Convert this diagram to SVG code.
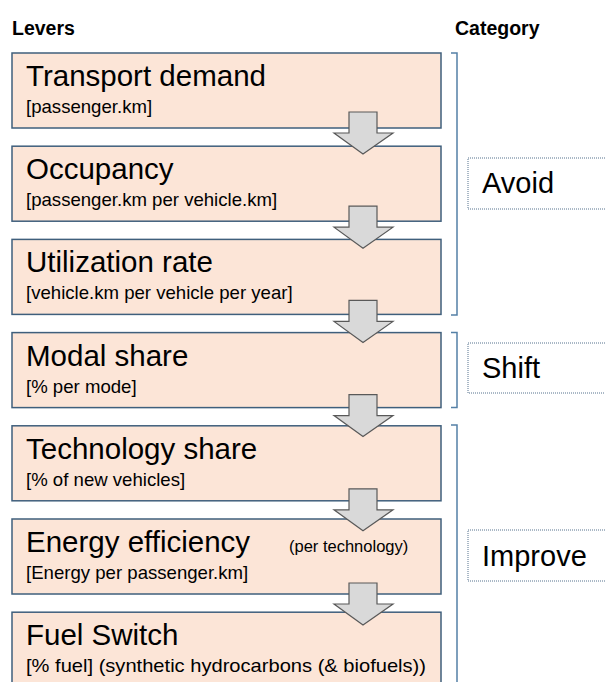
<svg xmlns="http://www.w3.org/2000/svg" width="605" height="682" viewBox="0 0 605 682">
<style>
  .box { fill: #fce5d7; stroke: #3f5f7c; stroke-width: 1.5; }
  .title { font-family: "Liberation Sans", Arial, sans-serif; font-size: 29.5px; fill: #000; }
  .sub { font-family: "Liberation Sans", Arial, sans-serif; font-size: 18.6px; fill: #000; }
  .small { font-family: "Liberation Sans", Arial, sans-serif; font-size: 16.5px; fill: #000; }
  .hdr { font-family: "Liberation Sans", Arial, sans-serif; font-size: 19.5px; font-weight: bold; fill: #000; }
  .cat { fill: #fff; stroke: #56728e; stroke-width: 1; stroke-dasharray: 1 1; }
  .cattext { font-family: "Liberation Sans", Arial, sans-serif; font-size: 29px; fill: #000; }
  .brk { fill: none; stroke: #5480a6; stroke-width: 1.5; }
  .arrow { fill: #d9d9d9; stroke: #595959; stroke-width: 1.2; stroke-linejoin: miter; }
</style>
<rect width="605" height="682" fill="#fff"/>
<g id="headers">
  <text class="hdr" x="12" y="35">Levers</text>
  <text class="hdr" x="455" y="35">Category</text>
</g>
<g id="node-transport-demand">
  <rect class="box" x="12" y="53" width="429" height="75"/>
  <text class="title" x="26" y="86">Transport demand</text>
  <text class="sub" x="26" y="113">[passenger.km]</text>
</g>
<g id="node-occupancy">
  <rect class="box" x="12" y="146.2" width="429" height="75"/>
  <text class="title" x="26" y="179.2">Occupancy</text>
  <text class="sub" x="26" y="206.2">[passenger.km per vehicle.km]</text>
</g>
<g id="node-utilization-rate">
  <rect class="box" x="12" y="239.4" width="429" height="75"/>
  <text class="title" x="26" y="272.4">Utilization rate</text>
  <text class="sub" x="26" y="299.4">[vehicle.km per vehicle per year]</text>
</g>
<g id="node-modal-share">
  <rect class="box" x="12" y="332.6" width="429" height="75"/>
  <text class="title" x="26" y="365.6">Modal share</text>
  <text class="sub" x="26" y="392.6">[% per mode]</text>
</g>
<g id="node-technology-share">
  <rect class="box" x="12" y="425.8" width="429" height="75"/>
  <text class="title" x="26" y="458.8">Technology share</text>
  <text class="sub" x="26" y="485.8">[% of new vehicles]</text>
</g>
<g id="node-energy-efficiency">
  <rect class="box" x="12" y="519" width="429" height="75"/>
  <text class="title" x="26" y="552">Energy efficiency</text>
  <text class="small" x="289" y="552">(per technology)</text>
  <text class="sub" x="26" y="579">[Energy per passenger.km]</text>
</g>
<g id="node-fuel-switch">
  <rect class="box" x="12" y="612.2" width="429" height="80"/>
  <text class="title" x="26" y="645.2">Fuel Switch</text>
  <text class="sub" x="26" y="672.2" textLength="400" lengthAdjust="spacingAndGlyphs">[% fuel] (synthetic hydrocarbons (&amp; biofuels))</text>
</g>
<g id="connectors">
  <path class="arrow" d="M349 112 H377 V133 H393 L363 154 L334 133 H349 Z"/>
  <path class="arrow" d="M349 206.2 H377 V227.2 H393 L363 248.2 L334 227.2 H349 Z"/>
  <path class="arrow" d="M349 300.4 H377 V321.4 H393 L363 342.4 L334 321.4 H349 Z"/>
  <path class="arrow" d="M349 394.6 H377 V415.6 H393 L363 436.6 L334 415.6 H349 Z"/>
  <path class="arrow" d="M349 488.8 H377 V509.8 H393 L363 530.8 L334 509.8 H349 Z"/>
  <path class="arrow" d="M349 583 H377 V604 H393 L363 625 L334 604 H349 Z"/>
</g>
<g id="brackets">
  <path class="brk" d="M451 53 H457 V315 H451"/>
  <path class="brk" d="M451 332.6 H457 V407.6 H451"/>
  <path class="brk" d="M451 425 H457 V690"/>
</g>
<g id="category-avoid">
  <rect class="cat" x="468" y="158" width="150" height="51"/>
  <text class="cattext" x="482" y="193">Avoid</text>
</g>
<g id="category-shift">
  <rect class="cat" x="468" y="343" width="150" height="50"/>
  <text class="cattext" x="482" y="378">Shift</text>
</g>
<g id="category-improve">
  <rect class="cat" x="468" y="530" width="150" height="51"/>
  <text class="cattext" x="482" y="566">Improve</text>
</g>
</svg>
